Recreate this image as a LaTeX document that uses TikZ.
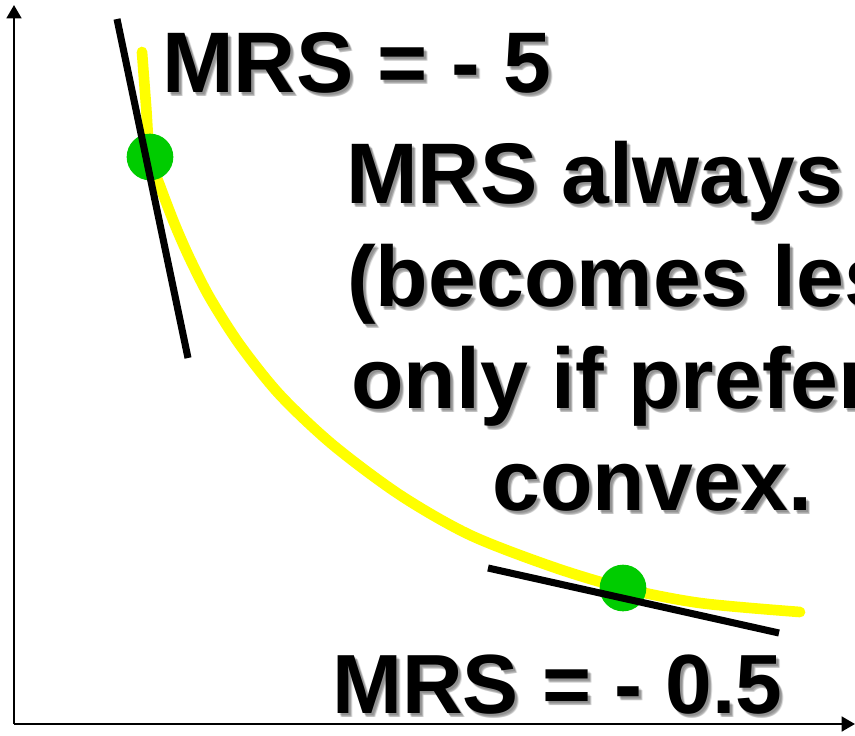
\documentclass[tikz,border=0pt]{standalone}
\usepackage{fontspec}
\setmainfont{Liberation Sans}
\usetikzlibrary{arrows.meta,calc}
\definecolor{curveyellow}{RGB}{255,255,0}
\definecolor{dotgreen}{RGB}{0,204,0}
\tikzset{
  axisline/.style={line width=2pt, -{Triangle[length=10pt,width=11pt]}},
  icurve/.style={curveyellow, line width=8pt, line cap=round},
  tangent/.style={black, line width=5.3pt},
  tanpt/.style={circle, fill=dotgreen, inner sep=0pt, minimum size=35pt},
  lbl/.style={anchor=base west, inner sep=0pt, font=\bfseries\fontsize{63}{75}\selectfont},
  biglbl/.style={lbl, font=\bfseries\fontsize{64.5}{75}\selectfont},
}
% name, position, style, text
\newcommand{\ShTxt}[4]{%
  \foreach \dx/\dy [count=\k] in {2/2,3/3,4/4,3/4}{%
    \node[#3, text=black, opacity=0.13] (#1s\k) at ($(#2)+(\dx,\dy)$) {#4};}
  \node[#3] (#1) at (#2) {#4};}
\begin{document}
\begin{tikzpicture}[x=0.75pt,y=-0.75pt]
\useasboundingbox (0,0) rectangle (855,735);
\clip (0,0) rectangle (855,735);
\fill[white] (0,0) rectangle (855,735);

% axes
\coordinate (O) at (14,724);
\coordinate (Ytop) at (14,5);
\coordinate (Xend) at (855,724);
\draw[axisline] (O) -- (Ytop);
\draw[axisline] (O) -- (Xend);

% indifference curve
\draw[icurve] plot[smooth, tension=0.5] coordinates {
 (142,52) (146,105) (150,157) (160,186) (175,225) (190,259) (210,298)
 (240,345) (280,395) (333,445) (400,495) (470,535) (553,567) (623,588)
 (700,603) (800,612)};

% tangency points
\node[tanpt] (P1) at (150,157) {};
\node[tanpt] (P2) at (623,588) {};

% tangent lines
\coordinate (T1a) at (117,19);
\coordinate (T1b) at (188,358);
\coordinate (T2a) at (488,568);
\coordinate (T2b) at (779,633);
\draw[tangent] (T1a) -- (T1b);
\draw[tangent] (T2a) -- (T2b);

% labels
\coordinate (L0) at (162,92);
\ShTxt{mrsA}{L0}{biglbl}{MRS = - 5}
\coordinate (L1) at (346,203);
\ShTxt{line1}{L1}{biglbl}{MRS always}
\coordinate (L2) at (347,306);
\ShTxt{line2}{L2}{biglbl}{(becomes less}
\coordinate (L3) at (351,408);
\ShTxt{line3}{L3}{biglbl}{only if prefer}
\coordinate (L4) at (492,510);
\ShTxt{line4}{L4}{biglbl}{convex.}
\coordinate (L5) at (332,713);
\ShTxt{mrsB}{L5}{lbl}{MRS = - 0.5}
\end{tikzpicture}
\end{document}
